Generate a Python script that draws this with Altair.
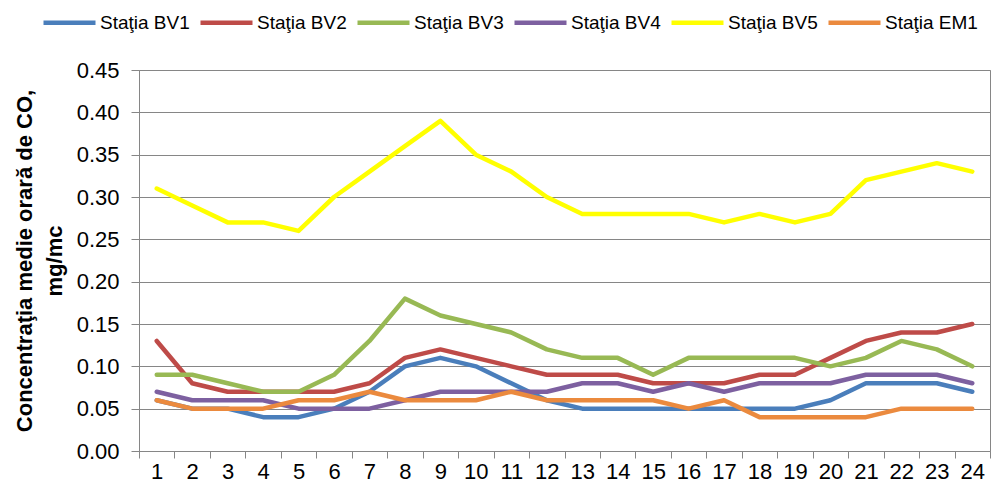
import altair as alt
import pandas as pd

hours = list(range(1, 25))
series_names = ["Staţia BV1", "Staţia BV2", "Staţia BV3", "Staţia BV4", "Staţia BV5", "Staţia EM1"]
bv1 = [0.06, 0.05, 0.05, 0.04, 0.04, 0.05, 0.07, 0.10, 0.11, 0.10, 0.08, 0.06,
       0.05, 0.05, 0.05, 0.05, 0.05, 0.05, 0.05, 0.06, 0.08, 0.08, 0.08, 0.07]
bv2 = [0.13, 0.08, 0.07, 0.07, 0.07, 0.07, 0.08, 0.11, 0.12, 0.11, 0.10, 0.09,
       0.09, 0.09, 0.08, 0.08, 0.08, 0.09, 0.09, 0.11, 0.13, 0.14, 0.14, 0.15]
bv3 = [0.09, 0.09, 0.08, 0.07, 0.07, 0.09, 0.13, 0.18, 0.16, 0.15, 0.14, 0.12,
       0.11, 0.11, 0.09, 0.11, 0.11, 0.11, 0.11, 0.10, 0.11, 0.13, 0.12, 0.10]
bv4 = [0.07, 0.06, 0.06, 0.06, 0.05, 0.05, 0.05, 0.06, 0.07, 0.07, 0.07, 0.07,
       0.08, 0.08, 0.07, 0.08, 0.07, 0.08, 0.08, 0.08, 0.09, 0.09, 0.09, 0.08]
bv5 = [0.31, 0.29, 0.27, 0.27, 0.26, 0.30, 0.33, 0.36, 0.39, 0.35, 0.33, 0.30,
       0.28, 0.28, 0.28, 0.28, 0.27, 0.28, 0.27, 0.28, 0.32, 0.33, 0.34, 0.33]
em1 = [0.06, 0.05, 0.05, 0.05, 0.06, 0.06, 0.07, 0.06, 0.06, 0.06, 0.07, 0.06,
       0.06, 0.06, 0.06, 0.05, 0.06, 0.04, 0.04, 0.04, 0.04, 0.05, 0.05, 0.05]
colors = ["#4A7EBB", "#BE4B48", "#98B954", "#7D60A0", "#FFFF00", "#EB8A3E"]
y_ticks = [0.0, 0.05, 0.10, 0.15, 0.20, 0.25, 0.30, 0.35, 0.40, 0.45]

rows = []
for name, vals in zip(series_names, [bv1, bv2, bv3, bv4, bv5, em1]):
    for h, v in zip(hours, vals):
        rows.append({"ora": h, "statia": name, "valoare": v})
df = pd.DataFrame(rows)

FONT = "Liberation Sans"

chart = alt.Chart(df).mark_line(strokeWidth=4.5, strokeJoin="round", strokeCap="round").encode(
    x=alt.X("ora:O",
            scale=alt.Scale(type="band", paddingInner=0, paddingOuter=0),
            axis=alt.Axis(title=None, labelAngle=0, tickBand="extent", grid=False,
                          tickSize=7, labelPadding=3, labelFontSize=22, labelFont=FONT,
                          labelColor="#000000", domainColor="#868686", tickColor="#868686")),
    y=alt.Y("valoare:Q",
            scale=alt.Scale(domain=[0, 0.45], nice=False),
            axis=alt.Axis(values=y_ticks, format=".2f",
                          title=["Concentraţia medie orară de CO,", "mg/mc"],
                          titleFontSize=22, titleFont=FONT, titleFontWeight="bold",
                          titleColor="#000000", titlePadding=10, titleLineHeight=30,
                          labelFontSize=22, labelFont=FONT, labelColor="#000000",
                          labelPadding=12, tickSize=8,
                          gridColor="#868686", domainColor="#868686", tickColor="#868686")),
    color=alt.Color("statia:N",
                    scale=alt.Scale(domain=series_names, range=colors),
                    legend=alt.Legend(title=None, orient="none", legendX=-98, legendY=-76,
                                      direction="horizontal", symbolType="stroke",
                                      symbolSize=2704, symbolStrokeWidth=4.5,
                                      labelFontSize=19, labelFont=FONT, labelColor="#000000",
                                      labelOffset=2, columnPadding=1, padding=0)),
).properties(
    width=983, height=474,
    autosize=alt.AutoSizeParams(type="fit", contains="padding"),
    padding={"left": 5, "top": 51, "right": 0, "bottom": 0},
).configure_view(
    stroke="#868686", strokeWidth=1
).configure_axis(
    domainWidth=1, gridWidth=1, tickWidth=1
)

chart.save("out.html", embed_options={"renderer": "svg", "actions": False})
